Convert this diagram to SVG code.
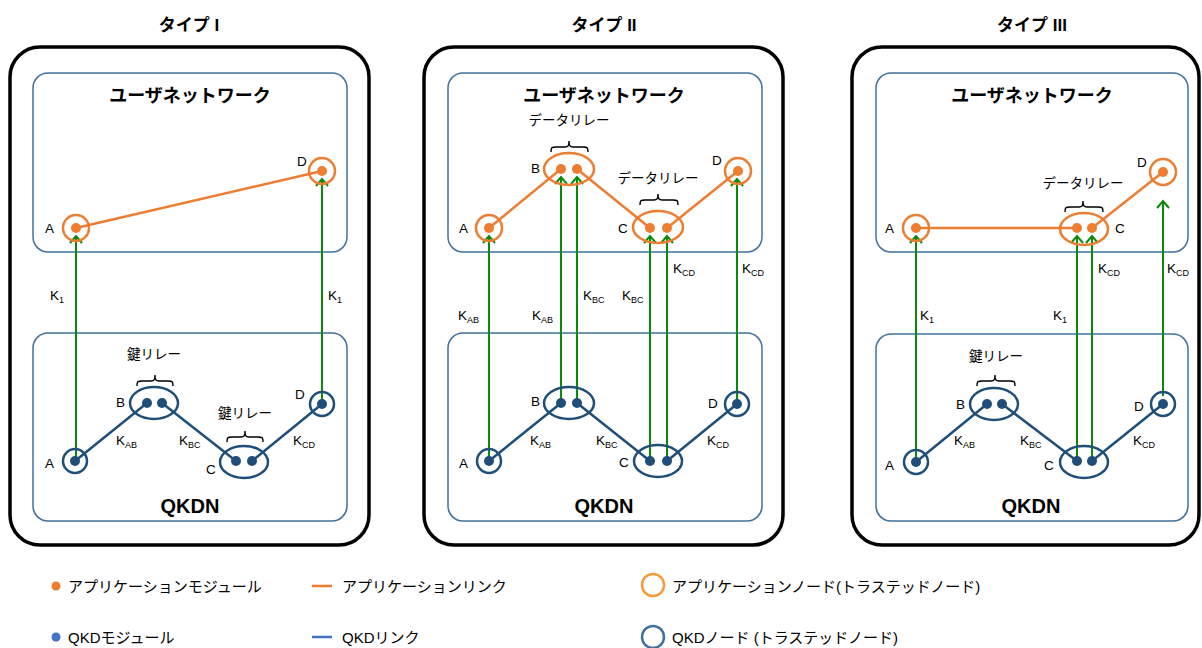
<svg xmlns="http://www.w3.org/2000/svg" width="1202" height="648" viewBox="0 0 1202 648">
<style>
text{font-family:"Liberation Sans","Noto Sans CJK JP",sans-serif;fill:#000}
.title{font-size:17px;font-weight:bold;text-anchor:middle}
.net{font-size:18px;font-weight:bold;text-anchor:middle}
.qkdn{font-size:20px;font-weight:bold;text-anchor:middle}
.lbl{font-size:13.5px}
.mid{text-anchor:middle}
.sub{font-size:9px}
.leg{font-size:15px}
.outer{fill:none;stroke:#000;stroke-width:3.5}
.inner{fill:none;stroke:#41719C;stroke-width:1.5}
.aring{fill:none;stroke:#ED7D31;stroke-width:2.5}
.adot{fill:#ED7D31}
.qring{fill:none;stroke:#1F4E79;stroke-width:2.5}
.qdot{fill:#1F4E79}
.alink{stroke:#ED7D31;stroke-width:2.5;fill:none}
.qlink{stroke:#1F4E79;stroke-width:2.5;fill:none}
.key{stroke:#0A8A0A;stroke-width:2;fill:none;marker-end:url(#arr)}
.brace{fill:none;stroke:#000;stroke-width:1.4}
</style>
<defs>
<marker id="arr" markerUnits="userSpaceOnUse" markerWidth="14" markerHeight="14" viewBox="-8 -7 10 14" refX="0" refY="0" orient="auto" overflow="visible">
<path d="M-7,-6 L0,0 L-7,6" fill="none" stroke="#0A8A0A" stroke-width="2"/>
</marker>
</defs>

<g id="panel1">
<text class="title" x="189" y="31">タイプ I</text>
<rect class="outer" x="10" y="47" width="359" height="498" rx="30"/>
<rect class="inner" x="33" y="73" width="314" height="179" rx="15"/>
<text class="net" x="190" y="102">ユーザネットワーク</text>
<rect class="inner" x="33" y="333" width="314" height="188" rx="15"/>
<text class="qkdn" x="190" y="513">QKDN</text>
</g>
<g id="panel2">
<text class="title" x="604" y="31">タイプ II</text>
<rect class="outer" x="424" y="47" width="359" height="498" rx="30"/>
<rect class="inner" x="448" y="73" width="314" height="179" rx="15"/>
<text class="net" x="604" y="102">ユーザネットワーク</text>
<rect class="inner" x="448" y="333" width="314" height="188" rx="15"/>
<text class="qkdn" x="604" y="513">QKDN</text>
</g>
<g id="panel3">
<text class="title" x="1032" y="31">タイプ III</text>
<rect class="outer" x="852" y="47" width="347" height="498" rx="30"/>
<rect class="inner" x="876" y="73" width="312" height="179" rx="15"/>
<text class="net" x="1032" y="102">ユーザネットワーク</text>
<rect class="inner" x="876" y="334" width="312" height="187" rx="15"/>
<text class="qkdn" x="1031" y="513">QKDN</text>
</g>

<g id="connectors">
<line class="alink" x1="76" y1="228" x2="322" y2="171"/>
<line class="qlink" x1="75" y1="461" x2="147" y2="403"/>
<line class="qlink" x1="162" y1="403" x2="236" y2="461"/>
<line class="qlink" x1="252" y1="461" x2="322" y2="404"/>
<line class="key" x1="76" y1="461" x2="76" y2="236"/>
<line class="key" x1="322" y1="404" x2="322" y2="179"/>
<line class="alink" x1="489" y1="228" x2="561" y2="169"/>
<line class="alink" x1="577" y1="169" x2="650" y2="228"/>
<line class="alink" x1="667" y1="228" x2="738" y2="171"/>
<line class="qlink" x1="489" y1="461" x2="561" y2="403"/>
<line class="qlink" x1="577" y1="403" x2="650" y2="461"/>
<line class="qlink" x1="667" y1="461" x2="737" y2="404"/>
<line class="key" x1="489" y1="461" x2="489" y2="236"/>
<line class="key" x1="561" y1="403" x2="561" y2="177"/>
<line class="key" x1="577" y1="403" x2="577" y2="177"/>
<line class="key" x1="650" y1="461" x2="650" y2="236"/>
<line class="key" x1="667" y1="461" x2="667" y2="236"/>
<line class="key" x1="737" y1="404" x2="737" y2="179"/>
<line class="alink" x1="916" y1="228" x2="1077" y2="228"/>
<line class="alink" x1="1092" y1="228" x2="1163" y2="172"/>
<line class="qlink" x1="916" y1="462" x2="987" y2="404"/>
<line class="qlink" x1="1002" y1="404" x2="1077" y2="461"/>
<line class="qlink" x1="1092" y1="461" x2="1163" y2="404"/>
<line class="key" x1="916" y1="462" x2="916" y2="236"/>
<line class="key" x1="1077" y1="461" x2="1077" y2="236"/>
<line class="key" x1="1092" y1="461" x2="1092" y2="236"/>
<line class="key" x1="1163" y1="396" x2="1163" y2="201"/>
</g>

<g id="p1-app-A"><circle class="aring" cx="76" cy="228" r="13"/><circle class="adot" cx="76" cy="228" r="5"/><text class="lbl" x="45" y="233">A</text></g>
<g id="p1-app-D"><circle class="aring" cx="322" cy="171" r="13"/><circle class="adot" cx="322" cy="171" r="5"/><text class="lbl" x="297" y="166">D</text></g>
<g id="p1-qkd-A"><circle class="qring" cx="75" cy="461" r="12"/><circle class="qdot" cx="75" cy="461" r="5"/><text class="lbl" x="45" y="468">A</text></g>
<g id="p1-qkd-B"><ellipse class="qring" cx="154" cy="403" rx="24" ry="16"/><circle class="qdot" cx="147" cy="403" r="5"/><circle class="qdot" cx="162" cy="403" r="5"/><text class="lbl" x="116" y="407">B</text>
<text class="lbl mid" x="154" y="359">鍵リレー</text><path class="brace" d="M137,386 C137,381 138,381 142,381 L151,381 C154,381 155,380 155,375 C155,380 156,381 159,381 L168,381 C172,381 173,381 173,386"/></g>
<g id="p1-qkd-C"><ellipse class="qring" cx="244" cy="462" rx="24" ry="16"/><circle class="qdot" cx="236" cy="461" r="5"/><circle class="qdot" cx="252" cy="461" r="5"/><text class="lbl" x="206" y="474">C</text>
<text class="lbl mid" x="245" y="418">鍵リレー</text><path class="brace" d="M227,442 C227,437 228,437 232,437 L241,437 C244,437 245,436 245,431 C245,436 246,437 249,437 L258,437 C262,437 263,437 263,442"/></g>
<g id="p1-qkd-D"><circle class="qring" cx="322" cy="404" r="12"/><circle class="qdot" cx="322" cy="404" r="5"/><text class="lbl" x="295" y="399">D</text></g>
<g id="p1-labels">
<text class="lbl" x="50" y="300">K<tspan class="sub" dy="3">1</tspan></text>
<text class="lbl" x="328" y="300">K<tspan class="sub" dy="3">1</tspan></text>
<text class="lbl" x="116" y="445">K<tspan class="sub" dy="3">AB</tspan></text>
<text class="lbl" x="179" y="445">K<tspan class="sub" dy="3">BC</tspan></text>
<text class="lbl" x="293" y="445">K<tspan class="sub" dy="3">CD</tspan></text>
</g>

<g id="p2-app-A"><circle class="aring" cx="489" cy="228" r="13"/><circle class="adot" cx="489" cy="228" r="5"/><text class="lbl" x="459" y="233">A</text></g>
<g id="p2-app-B"><ellipse class="aring" cx="569" cy="169" rx="25" ry="16"/><circle class="adot" cx="561" cy="169" r="5"/><circle class="adot" cx="577" cy="169" r="5"/><text class="lbl" x="531" y="173">B</text>
<text class="lbl mid" x="569" y="125">データリレー</text><path class="brace" d="M551,152 C551,147 552,147 556,147 L565,147 C568,147 569,146 569,141 C569,146 570,147 573,147 L583,147 C587,147 588,147 588,152"/></g>
<g id="p2-app-C"><ellipse class="aring" cx="658" cy="227" rx="25" ry="16"/><circle class="adot" cx="650" cy="228" r="5"/><circle class="adot" cx="667" cy="228" r="5"/><text class="lbl" x="618" y="233">C</text>
<text class="lbl mid" x="658" y="183">データリレー</text><path class="brace" d="M640,205 C640,200 641,200 645,200 L654,200 C657,200 658,199 658,194 C658,199 659,200 662,200 L673,200 C677,200 678,200 678,205"/></g>
<g id="p2-app-D"><circle class="aring" cx="738" cy="171" r="13"/><circle class="adot" cx="738" cy="171" r="5"/><text class="lbl" x="712" y="165">D</text></g>
<g id="p2-qkd-A"><circle class="qring" cx="489" cy="461" r="12"/><circle class="qdot" cx="489" cy="461" r="5"/><text class="lbl" x="459" y="468">A</text></g>
<g id="p2-qkd-B"><ellipse class="qring" cx="569" cy="403" rx="25" ry="16"/><circle class="qdot" cx="561" cy="403" r="5"/><circle class="qdot" cx="577" cy="403" r="5"/><text class="lbl" x="531" y="406">B</text></g>
<g id="p2-qkd-C"><ellipse class="qring" cx="658" cy="461" rx="24" ry="16"/><circle class="qdot" cx="650" cy="461" r="5"/><circle class="qdot" cx="667" cy="461" r="5"/><text class="lbl" x="619" y="467">C</text></g>
<g id="p2-qkd-D"><circle class="qring" cx="737" cy="404" r="12"/><circle class="qdot" cx="737" cy="404" r="5"/><text class="lbl" x="708" y="408">D</text></g>
<g id="p2-labels">
<text class="lbl" x="458" y="320">K<tspan class="sub" dy="3">AB</tspan></text>
<text class="lbl" x="532" y="320">K<tspan class="sub" dy="3">AB</tspan></text>
<text class="lbl" x="583" y="300">K<tspan class="sub" dy="3">BC</tspan></text>
<text class="lbl" x="622" y="300">K<tspan class="sub" dy="3">BC</tspan></text>
<text class="lbl" x="673" y="273">K<tspan class="sub" dy="3">CD</tspan></text>
<text class="lbl" x="742" y="273">K<tspan class="sub" dy="3">CD</tspan></text>
<text class="lbl" x="530" y="445">K<tspan class="sub" dy="3">AB</tspan></text>
<text class="lbl" x="596" y="445">K<tspan class="sub" dy="3">BC</tspan></text>
<text class="lbl" x="707" y="445">K<tspan class="sub" dy="3">CD</tspan></text>
</g>

<g id="p3-app-A"><circle class="aring" cx="916" cy="228" r="13"/><circle class="adot" cx="916" cy="228" r="5"/><text class="lbl" x="885" y="233">A</text></g>
<g id="p3-app-C"><ellipse class="aring" cx="1084" cy="229" rx="24" ry="16"/><circle class="adot" cx="1077" cy="228" r="5"/><circle class="adot" cx="1092" cy="228" r="5"/><text class="lbl" x="1115" y="233">C</text>
<text class="lbl mid" x="1083" y="188">データリレー</text><path class="brace" d="M1065,212 C1065,207 1066,207 1070,207 L1079,207 C1082,207 1083,206 1083,201 C1083,206 1084,207 1087,207 L1098,207 C1102,207 1103,207 1103,212"/></g>
<g id="p3-app-D"><circle class="aring" cx="1163" cy="172" r="13"/><circle class="adot" cx="1163" cy="172" r="5"/><text class="lbl" x="1137" y="167">D</text></g>
<g id="p3-qkd-A"><circle class="qring" cx="916" cy="462" r="12"/><circle class="qdot" cx="916" cy="462" r="5"/><text class="lbl" x="885" y="470">A</text></g>
<g id="p3-qkd-B"><ellipse class="qring" cx="994" cy="404" rx="24" ry="16"/><circle class="qdot" cx="987" cy="404" r="5"/><circle class="qdot" cx="1002" cy="404" r="5"/><text class="lbl" x="956" y="409">B</text>
<text class="lbl mid" x="996" y="361">鍵リレー</text><path class="brace" d="M977,386 C977,381 978,381 982,381 L991,381 C994,381 995,380 995,375 C995,380 996,381 999,381 L1010,381 C1014,381 1015,381 1015,386"/></g>
<g id="p3-qkd-C"><ellipse class="qring" cx="1084" cy="462" rx="24" ry="16"/><circle class="qdot" cx="1077" cy="461" r="5"/><circle class="qdot" cx="1092" cy="461" r="5"/><text class="lbl" x="1044" y="470">C</text></g>
<g id="p3-qkd-D"><circle class="qring" cx="1163" cy="404" r="12"/><circle class="qdot" cx="1163" cy="404" r="5"/><text class="lbl" x="1134" y="411">D</text></g>
<g id="p3-labels">
<text class="lbl" x="920" y="320">K<tspan class="sub" dy="3">1</tspan></text>
<text class="lbl" x="1053" y="320">K<tspan class="sub" dy="3">1</tspan></text>
<text class="lbl" x="1098" y="273">K<tspan class="sub" dy="3">CD</tspan></text>
<text class="lbl" x="1167" y="273">K<tspan class="sub" dy="3">CD</tspan></text>
<text class="lbl" x="954" y="445">K<tspan class="sub" dy="3">AB</tspan></text>
<text class="lbl" x="1020" y="445">K<tspan class="sub" dy="3">BC</tspan></text>
<text class="lbl" x="1133" y="445">K<tspan class="sub" dy="3">CD</tspan></text>
</g>

<g id="legend">
<circle cx="56" cy="586" r="4.5" fill="#ED7D31"/>
<text class="leg" x="68" y="592">アプリケーションモジュール</text>
<line x1="312" y1="586" x2="332" y2="586" stroke="#ED7D31" stroke-width="2.5"/>
<text class="leg" x="342" y="592">アプリケーションリンク</text>
<circle cx="653" cy="585" r="11" fill="none" stroke="#F79B38" stroke-width="2.5"/>
<text class="leg" x="672" y="592">アプリケーションノード(トラステッドノード)</text>
<circle cx="56" cy="637" r="4.5" fill="#4472C4"/>
<text class="leg" x="68" y="643">QKDモジュール</text>
<line x1="312" y1="637" x2="332" y2="637" stroke="#4472C4" stroke-width="2.5"/>
<text class="leg" x="342" y="643">QKDリンク</text>
<circle cx="653" cy="637" r="11" fill="none" stroke="#41719C" stroke-width="2.5"/>
<text class="leg" x="672" y="643">QKDノード (トラステッドノード)</text>
</g>
</svg>
